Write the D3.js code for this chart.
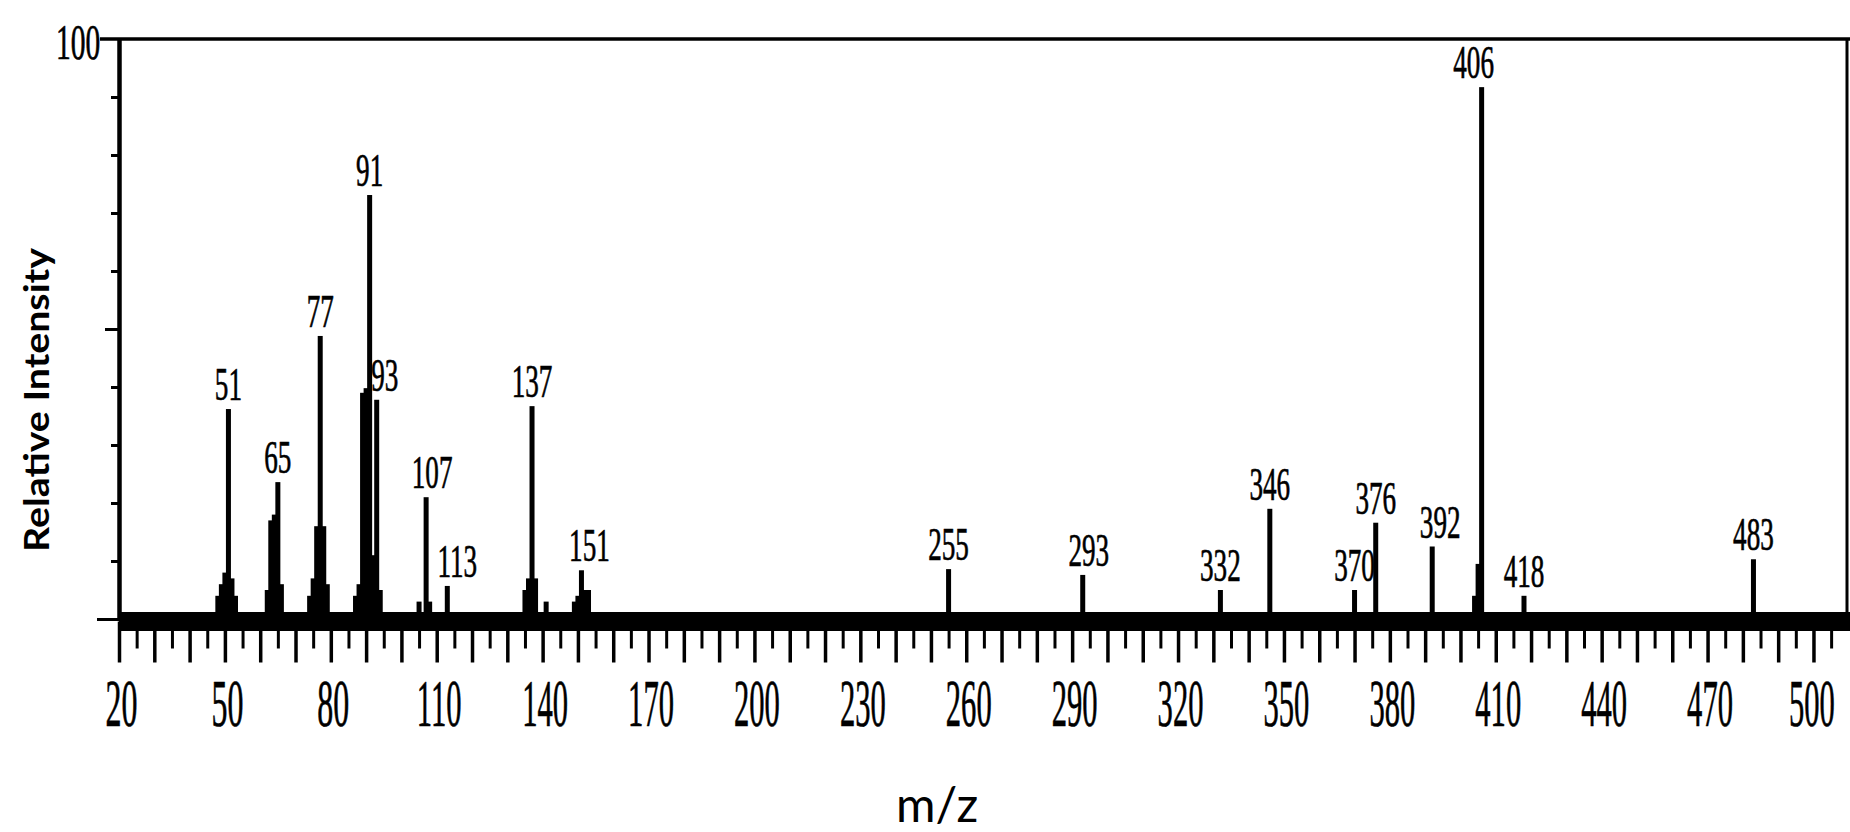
<!DOCTYPE html>
<html>
<head>
<meta charset="utf-8">
<script src="https://cdn.jsdelivr.net/npm/d3@7"></script>
<style>
  html, body { margin: 0; padding: 0; background: #fff; }
  svg { display: block; }
</style>
</head>
<body>
<script>
// m/z values and their relative intensities (%)
const mz = [
  48, 49, 50, 51, 52, 53,
  62, 63, 64, 65, 66,
  74, 75, 76, 77, 78, 79,
  87, 88, 89, 90, 91, 92, 93, 94,
  105, 107, 108, 113,
  135, 136, 137, 138, 141,
  149, 150, 151, 152, 153,
  255, 293, 332, 346, 370, 376, 392, 404, 405, 406, 418, 483
];
const intensity = [
  4, 6, 8, 36.2, 7, 4,
  5, 17, 18, 23.6, 6,
  4, 7, 16, 48.8, 16, 6,
  4, 6, 39, 39.8, 73.1, 11, 37.8, 5,
  3, 21, 3, 5.7,
  5, 7, 36.7, 7, 3,
  3, 4, 8.4, 5, 5,
  8.6, 7.6, 5, 19, 5, 16.6, 12.5, 4, 9.5, 91.7, 4, 10.3
];
// peaks carrying an m/z annotation
const labelled = [51, 65, 77, 91, 93, 107, 113, 137, 151, 255, 293, 332, 346, 370, 376, 392, 406, 418, 483];
const xTickLabels = [20, 50, 80, 110, 140, 170, 200, 230, 260, 290, 320, 350, 380, 410, 440, 470, 500];

// small sideways nudges so labels sit where the scan has them (px)
const labelNudge = {93: 8, 107: 6, 113: 10, 151: 8, 293: 6, 392: 8, 406: -8};

const width = 1850, height = 832;

const x = d3.scaleLinear().domain([20, 509.5]).range([119, 1847]);
const y = d3.scaleLinear().domain([0, 100]).range([619, 39]);

const svg = d3.select("body").append("svg")
    .attr("width", width)
    .attr("height", height);

const peaks = mz.map((m, i) => ({mz: m, v: intensity[i]}));

// peaks
svg.append("g")
  .selectAll("rect")
  .data(peaks)
  .join("rect")
    .attr("x", d => x(d.mz) - 2.5)
    .attr("width", 5)
    .attr("y", d => y(d.v))
    .attr("height", d => y(0) - y(d.v))
    .attr("fill", "#000");

// the scanned digits are tall and narrow: squeeze a serif horizontally
const serif = "'Liberation Serif', 'DejaVu Serif', serif";
function narrowDigits(sel, size, squeeze) {
  sel.attr("font-family", serif)
     .attr("font-size", size)
     .attr("fill", "#000")
     .attr("stroke", "#000")
     .attr("stroke-width", 0.7)
     .attr("text-anchor", "middle");
}

// peak annotations
svg.append("g")
  .selectAll("text")
  .data(peaks.filter(d => labelled.includes(d.mz)))
  .join("text")
    .attr("transform", d => `translate(${x(d.mz) + (labelNudge[d.mz] || 0)},${y(d.v) - 9}) scale(0.59,1)`)
    .call(narrowDigits, 46)
    .text(d => d.mz);

// baseline band with minor ticks (every 5)
const minorAxis = d3.axisBottom(x)
    .tickValues(d3.range(25, 510, 10))
    .tickSize(27)
    .tickSizeOuter(0)
    .tickFormat("");

const gMinor = svg.append("g")
    .attr("transform", `translate(0,${y(0) + 2.5})`)
    .call(minorAxis);
gMinor.select(".domain").remove();
gMinor.selectAll(".tick line").attr("stroke", "#000").attr("stroke-width", 3);

const majorAxis = d3.axisBottom(x)
    .tickValues(d3.range(20, 510, 10))
    .tickSize(41)
    .tickSizeOuter(0)
    .tickFormat(d => xTickLabels.includes(d) ? d : "");

const gMajor = svg.append("g")
    .attr("transform", `translate(0,${y(0) + 2.5})`)
    .call(majorAxis);
gMajor.select(".domain")
    .attr("d", `M${x(20)},0H${width}`)
    .attr("stroke", "#000")
    .attr("stroke-width", 19);
gMajor.selectAll(".tick line").attr("stroke", "#000").attr("stroke-width", 3.5);
gMajor.selectAll(".tick text")
    .attr("x", null)
    .attr("y", null)
    .attr("dy", null)
    .attr("transform", d => `translate(${d === 500 ? -2 : 2},104) scale(${String(d).length === 2 ? 0.47 : 0.45},1)`)
    .call(narrowDigits, 68);

// y axis
const yAxis = d3.axisLeft(y)
    .tickValues(d3.range(0, 101, 10))
    .tickSize(8)
    .tickSizeOuter(0)
    .tickFormat("");

const gY = svg.append("g")
    .attr("transform", `translate(${x(20)},0)`)
    .call(yAxis);
gY.select(".domain").attr("stroke", "#000").attr("stroke-width", 4.5);
gY.selectAll(".tick line")
    .attr("stroke", "#000")
    .attr("stroke-width", 3)
    .attr("x2", d => d === 0 ? -22 : d === 50 ? -14 : d === 100 ? 0 : -8);

svg.append("text")
    .attr("transform", "translate(78,59) scale(0.59,1)")
    .call(narrowDigits, 50)
    .text("100");

// frame: top rule and right edge
svg.append("line")
    .attr("x1", 100).attr("x2", width)
    .attr("y1", y(100)).attr("y2", y(100))
    .attr("stroke", "#000").attr("stroke-width", 3.5);
svg.append("line")
    .attr("x1", x(509.5)).attr("x2", x(509.5))
    .attr("y1", y(100)).attr("y2", y(0))
    .attr("stroke", "#000").attr("stroke-width", 3);

// axis titles
svg.append("text")
    .attr("transform", "translate(35,400) rotate(-90)")
    .attr("text-anchor", "middle")
    .attr("dominant-baseline", "central")
    .attr("font-family", "Lato, 'Open Sans', sans-serif")
    .attr("font-weight", "bold")
    .attr("font-size", 34)
    .attr("textLength", 304)
    .attr("lengthAdjust", "spacingAndGlyphs")
    .attr("fill", "#000")
    .text("Relative Intensity");

svg.append("text")
    .attr("x", 937)
    .attr("y", 822)
    .attr("text-anchor", "middle")
    .attr("font-family", "Lato, 'Open Sans', sans-serif")
    .attr("font-size", 48)
    .attr("fill", "#000")
    .text("m/z");
</script>
</body>
</html>
